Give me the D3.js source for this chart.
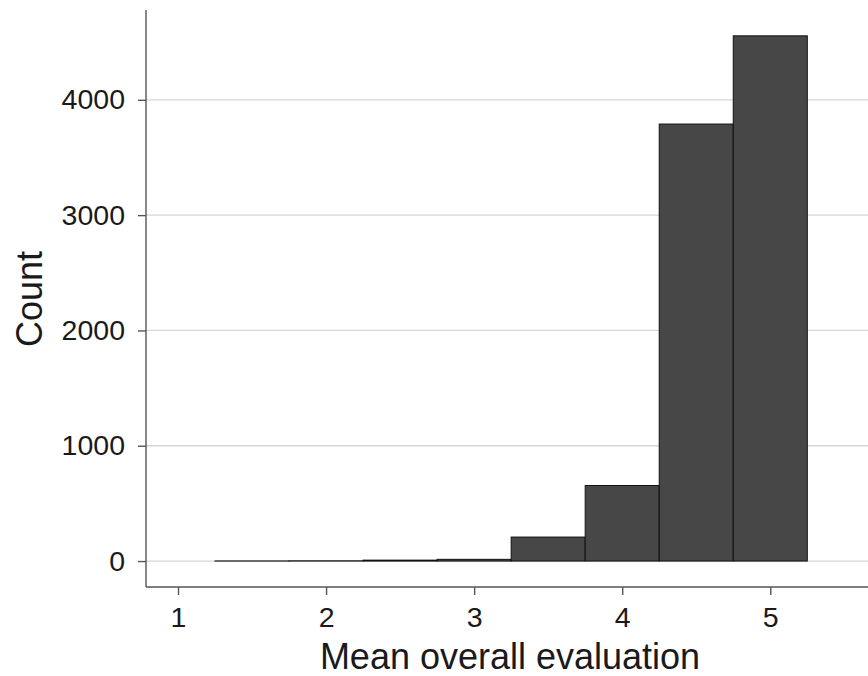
<!DOCTYPE html>
<html><head><meta charset="utf-8">
<script src="https://cdn.jsdelivr.net/npm/d3@7"></script>
<style>body{margin:0;background:#fff}svg{display:block}text{font-family:"Liberation Sans",Arial,sans-serif}</style>
</head><body><svg id="c" width="868" height="676"></svg>
<script>
const binStarts = [1.25, 1.75, 2.25, 2.75, 3.25, 3.75, 4.25, 4.75];
const binWidth = 0.5;
const counts = [1, 2, 8, 15, 208, 655, 3790, 4555];
const xTicks = [1, 2, 3, 4, 5];
const yTicks = [0, 1000, 2000, 3000, 4000];

const svg = d3.select("#c");
const x = d3.scaleLinear().domain([0.777, 5.66]).range([145, 868]);
const y = d3.scaleLinear().domain([-225, 4779]).range([587, 10]);

// gridlines
svg.append("g").selectAll("line").data(yTicks).join("line")
  .attr("x1", 146).attr("x2", 868)
  .attr("y1", d => y(d)).attr("y2", d => y(d))
  .attr("stroke", "#d6d6d6").attr("stroke-width", 1.3);

// bars
svg.append("g").selectAll("rect").data(binStarts).join("rect")
  .attr("x", d => x(d)).attr("width", d => x(d + binWidth) - x(d))
  .attr("y", (d, i) => y(counts[i])).attr("height", (d, i) => y(0) - y(counts[i]))
  .attr("fill", "#474747").attr("stroke", "#111").attr("stroke-width", 1);

// axes
const xa = svg.append("g").attr("transform", "translate(0,587)")
  .call(d3.axisBottom(x).tickValues(xTicks).tickSize(8).tickPadding(12).tickFormat(d3.format("d")));
const ya = svg.append("g").attr("transform", "translate(146,0)")
  .call(d3.axisLeft(y).tickValues(yTicks).tickSize(8).tickPadding(13).tickFormat(d3.format("d")));
[xa, ya].forEach(a => {
  a.select(".domain").attr("stroke", "#555").attr("stroke-width", 1.4);
  a.selectAll(".tick line").attr("stroke", "#555").attr("stroke-width", 1.4);
  a.selectAll("text").attr("font-size", 28.5).attr("fill", "#1a1a1a")
    .attr("font-family", "'Liberation Sans', Arial, sans-serif");
});
ya.select(".domain").attr("d", "M0,10V587");
xa.select(".domain").attr("d", "M146,0H868");

svg.append("text").attr("x", 510).attr("y", 669).attr("text-anchor", "middle")
  .attr("font-size", 36).attr("fill", "#1a1a1a").text("Mean overall evaluation");
svg.append("text").attr("transform", "translate(42,299) rotate(-90)").attr("text-anchor", "middle")
  .attr("font-size", 36).attr("fill", "#1a1a1a").text("Count");
</script></body></html>
